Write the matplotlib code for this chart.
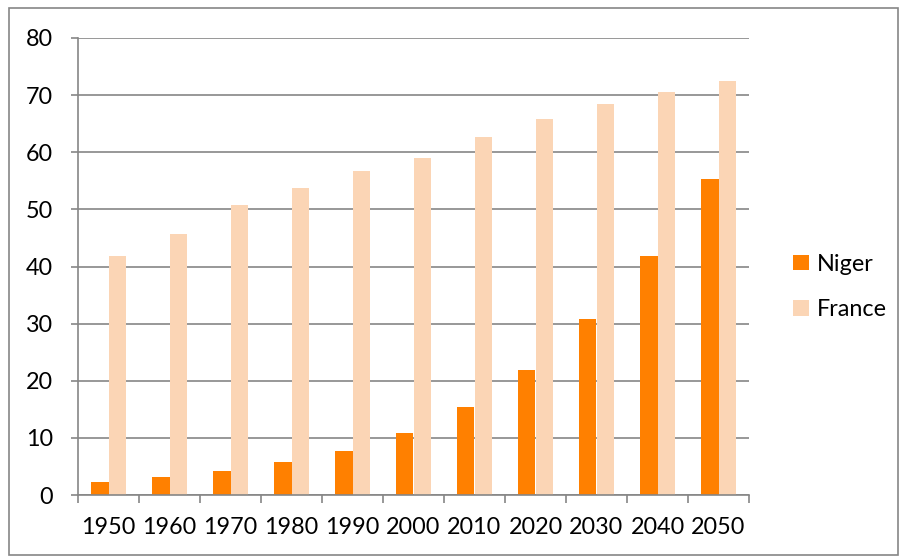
import numpy as np
import matplotlib.pyplot as plt
from matplotlib.patches import Rectangle

# Data
years = ["1950", "1960", "1970", "1980", "1990", "2000",
         "2010", "2020", "2030", "2040", "2050"]
niger = [2.3, 3.1, 4.2, 5.8, 7.7, 10.9, 15.4, 21.9, 30.8, 41.9, 55.3]
france = [41.9, 45.7, 50.8, 53.8, 56.7, 59.0, 62.7, 65.8, 68.5, 70.6, 72.5]

plt.rcParams['font.family'] = ['Lato', 'DejaVu Sans']
fs = 16.8

fig = plt.figure(figsize=(8.99, 5.57), dpi=100)
ax = fig.add_axes([78/899, 1 - 495/557, 671/899, 457/557])

x = np.arange(len(years))
w = 0.287
ax.bar(x - w/2, niger, w, color="#FF8000", label="Niger", zorder=3)
ax.bar(x + w/2, france, w, color="#FBD5B5", label="France", zorder=3)

grid_c = "#868686"
ax.set_ylim(0, 80)
ax.set_xlim(-0.5, len(years) - 0.5)
ax.set_yticks(np.arange(0, 81, 10))
ax.yaxis.grid(True, color=grid_c, linewidth=1.2, zorder=0)
ax.tick_params(axis='y', length=5, width=1.2, color=grid_c, pad=13, labelsize=fs)

ax.set_xticks(x)
ax.set_xticklabels(years)
ax.set_xticks(np.arange(-0.5, len(years)), minor=True)
ax.tick_params(axis='x', which='major', length=0, pad=16, labelsize=fs)
ax.tick_params(axis='x', which='minor', length=6, width=1.2, color=grid_c)

for s in ["top", "right"]:
    ax.spines[s].set_visible(False)
for s in ["left", "bottom"]:
    ax.spines[s].set_color(grid_c)
    ax.spines[s].set_linewidth(1.2)
    ax.spines[s].set_zorder(4)

ax.legend(loc="center left", bbox_to_anchor=(1.035, 0.455), frameon=False,
          fontsize=fs, handlelength=0.65, handleheight=0.65,
          handletextpad=0.35, labelspacing=1.05)

fig.patches.append(Rectangle((9/899, 2/557), 889/899, 547/557,
                             transform=fig.transFigure, fill=False,
                             edgecolor=grid_c, linewidth=1.2))

fig.savefig("out.png", dpi=100)
